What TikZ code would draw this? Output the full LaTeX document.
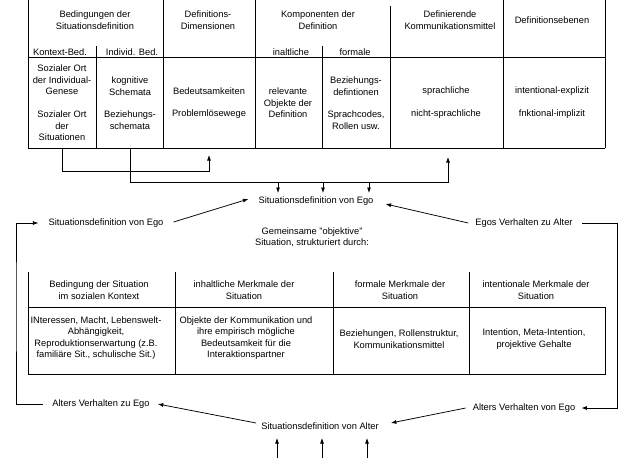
\documentclass[tikz,border=0pt]{standalone}
\usepackage{fontspec}
\setmainfont{Liberation Sans}
\usetikzlibrary{arrows.meta,calc}
\begin{document}
\begin{tikzpicture}[x=1pt,y=-1pt,
  txt/.style={font=\fontsize{9.3}{11.5}\selectfont, align=center, inner sep=0pt},
  grid/.style={line width=0.75pt, line cap=rect},
  conn/.style={line width=0.75pt},
  arr/.style={line width=0.75pt, -{Latex[length=5.5pt,width=4pt]}}]
\fill[white] (0,0) rectangle (620,458);
\useasboundingbox (0,0) rectangle (620,458);

% ---------- top table ----------
\draw[grid] (28,0) -- (28,148) -- (605,148);
\draw[grid] (28,57) -- (605,57);
\foreach \x in {163,255,503,605} \draw[grid] (\x,0) -- (\x,148);
\draw[grid] (390,6) -- (390,148);
\draw[grid] (96,46) -- (96,148);
\draw[grid] (322,46) -- (322,148);

\node[txt] (h1) at (95,20) {Bedingungen der\\Situationsdefinition};
\node[txt] (h2) at (208,20) {Definitions-\\Dimensionen};
\node[txt] (h3) at (318,20) {Komponenten der\\Definition};
\node[txt] (h4) at (450,20) {Definierende\\Kommunikationsmittel};
\node[txt] (h5) at (552,20) {Definitionsebenen};

\node[txt] (s1) at (60,52) {Kontext-Bed.};
\node[txt] (s2) at (132,52) {Individ. Bed.};
\node[txt] (s3) at (291,52) {inaltliche};
\node[txt] (s4) at (355,52) {formale};

\node[txt] (b1a) at (62,80) {Sozialer Ort\\der Individual-\\Genese};
\node[txt] (b1b) at (62,126) {Sozialer Ort\\der\\Situationen};
\node[txt] (b2a) at (130,86) {kognitive\\Schemata};
\node[txt] (b2b) at (130,120) {Beziehungs-\\schemata};
\node[txt] (b3a) at (209,91) {Bedeutsamkeiten};
\node[txt] (b3b) at (209,114) {Problemlösewege};
\node[txt] (b4) at (288,103) {relevante\\Objekte der\\Definition};
\node[txt] (b5a) at (356,86) {Beziehungs-\\defintionen};
\node[txt] (b5b) at (356,120) {Sprachcodes,\\Rollen usw.};
\node[txt] (b6a) at (446,91) {sprachliche};
\node[txt] (b6b) at (446,114) {nicht-sprachliche};
\node[txt] (b7a) at (552,91) {intentional-explizit};
\node[txt] (b7b) at (552,114) {fnktional-implizit};

% ---------- connectors from top table ----------
\coordinate (k1) at (62,148);
\coordinate (k2) at (130,148);
\coordinate (dimTip) at (209,155);
\coordinate (komTip) at (448,157);
\draw[arr] (k1) -- ++(0,23) -| (dimTip);
\draw[arr] (k2) -- ++(0,34) -| (komTip);

\node[txt] (egoC) at (316,201) {Situationsdefinition von Ego};
\coordinate (egoTip) at (316,193);
\foreach \x in {278,323,369} \draw[arr] (\x,182) -- (\x,0 |- egoTip);

\node[txt] (egoL) at (106,223) {Situationsdefinition von Ego};
\node[txt] (egoR) at (524,223) {Egos Verhalten zu Alter};
\node[txt] (gem) at (312,237) {Gemeinsame "objektive"\\Situation, strukturiert durch:};

\draw[arr] ([shift={(10pt,1pt)}]egoL.east) -- ([shift={(-10pt,2pt)}]egoC.west);
\draw[arr] ([xshift=-7pt]egoR.west) -- ([shift={(12pt,-3pt)}]egoC.east);

% ---------- bottom table ----------
\draw[grid] (28,272) -- (28,374) -- (605,374) -- (605,307);
\draw[grid] (28,307) -- (605,307);
\foreach \x in {175,333,469} \draw[grid] (\x,272) -- (\x,374);

\node[txt] (t1) at (99,290) {Bedingung der Situation\\im sozialen Kontext};
\node[txt] (t2) at (244,290) {inhaltliche Merkmale der\\Situation};
\node[txt] (t3) at (400,290) {formale Merkmale der\\Situation};
\node[txt] (t4) at (536,290) {intentionale Merkmale der\\Situation};

\node[txt] (u1) at (96,338) {INteressen, Macht, Lebenswelt-\\Abhängigkeit,\\Reproduktionserwartung (z.B.\\familiäre Sit., schulische Sit.)};
\node[txt] (u2) at (246,338) {Objekte der Kommunikation und\\ihre empirisch mögliche\\Bedeutsamkeit für die\\Interaktionspartner};
\node[txt] (u3) at (399,339) {Beziehungen, Rollenstruktur,\\Kommunikationsmittel};
\node[txt] (u4) at (534,339) {Intention, Meta-Intention,\\projektive Gehalte};

% ---------- bottom labels ----------
\node[txt] (alterL) at (101,404) {Alters Verhalten zu Ego};
\node[txt] (alterR) at (524,408) {Alters Verhalten von Ego};
\node[txt] (alterC) at (320,426) {Situationsdefinition von Alter};

\draw[arr] ([shift={(-5pt,3pt)}]alterC.west) -- ([shift={(8pt,0pt)}]alterL.east);
\draw[arr] ([xshift=-7pt]alterR.west) -- ([shift={(12pt,3pt)}]alterC.east);

\coordinate (altTip) at (320,438);
\foreach \x in {277,322,367} \draw[arr] (\x,458) -- (\x,0 |- altTip);

% ---------- feedback loops ----------
\coordinate (loopR) at (617,300);
\coordinate (loopL) at (16,300);
\draw[arr] ([xshift=9pt]egoR.east) -| (loopR) |- ([xshift=6pt]alterR.east);
\draw[arr] ([xshift=-9pt]alterL.west) -| (loopL) |- ([xshift=-10pt]egoL.west);
\end{tikzpicture}
\end{document}
